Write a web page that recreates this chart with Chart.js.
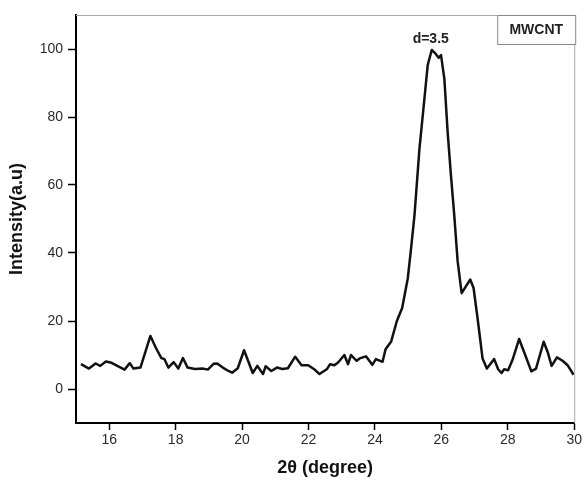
<!DOCTYPE html>
<html>
<head>
<meta charset="utf-8">
<script src="https://cdn.jsdelivr.net/npm/chart.js@4"></script>
<style>
  body { margin: 0; background: #fff; }
  #wrap { width: 584px; height: 481px; }
</style>
</head>
<body>
<div id="wrap"><canvas id="xrdChart"></canvas></div>
<script>
// 2theta positions (degree) and intensity
const angle = [15.15, 15.39, 15.59, 15.73, 15.9, 16.07, 16.26, 16.46, 16.62, 16.73, 16.94, 17.24, 17.4, 17.57, 17.66, 17.78, 17.94, 18.08, 18.22, 18.36, 18.58, 18.81, 18.97, 19.14, 19.25, 19.42, 19.59, 19.7, 19.87, 20.06, 20.32, 20.46, 20.63, 20.71, 20.88, 21.05, 21.21, 21.38, 21.6, 21.79, 21.99, 22.16, 22.33, 22.56, 22.65, 22.78, 22.89, 23.08, 23.19, 23.28, 23.45, 23.54, 23.73, 23.92, 24.03, 24.23, 24.32, 24.49, 24.66, 24.82, 24.99, 25.09, 25.19, 25.34, 25.49, 25.59, 25.71, 25.82, 25.92, 25.99, 26.09, 26.19, 26.29, 26.39, 26.49, 26.61, 26.87, 26.97, 27.09, 27.24, 27.37, 27.59, 27.71, 27.81, 27.89, 28.01, 28.14, 28.34, 28.49, 28.71, 28.85, 29.08, 29.2, 29.32, 29.48, 29.65, 29.8, 29.98];
const intensity = [7.3, 6.0, 7.5, 6.8, 8.1, 7.7, 6.7, 5.7, 7.6, 6.0, 6.3, 15.6, 12.2, 9.1, 8.8, 6.3, 7.9, 6.0, 9.1, 6.3, 5.9, 6.0, 5.7, 7.4, 7.5, 6.3, 5.3, 4.8, 6.1, 11.4, 4.7, 6.8, 4.4, 6.7, 5.3, 6.3, 5.9, 6.1, 9.5, 7.0, 7.0, 5.9, 4.4, 5.9, 7.3, 7.0, 7.8, 10.0, 7.3, 10.0, 8.3, 9.0, 9.6, 7.1, 8.8, 8.0, 11.7, 14.0, 20.0, 23.8, 32.6, 41.5, 51.0, 70.6, 85.4, 95.3, 99.7, 98.7, 97.4, 98.2, 91.3, 75.5, 62.7, 50.9, 37.6, 28.2, 32.2, 29.7, 20.8, 9.0, 6.0, 8.8, 5.8, 4.7, 5.8, 5.5, 8.5, 14.7, 10.9, 5.2, 6.0, 13.9, 10.9, 6.8, 9.3, 8.3, 7.0, 4.2];

const xTicks = [16, 18, 20, 22, 24, 26, 28, 30];
const yTicks = [0, 20, 40, 60, 80, 100];

const sampleName = "MWCNT";
const peakLabel = "d=3.5";
const peakPos = [25.68, 103];

const points = angle.map((a, i) => ({ x: a, y: intensity[i] }));

// frame, sample box and peak note
const extras = {
  id: 'extras',
  afterDraw(chart) {
    const c = chart.ctx;
    const a = chart.chartArea;
    c.save();
    c.strokeStyle = '#aaa';
    c.lineWidth = 1;
    c.beginPath();
    c.moveTo(a.left, a.top + 0.5);
    c.lineTo(a.right + 0.5, a.top + 0.5);
    c.lineTo(a.right + 0.5, a.bottom);
    c.stroke();

    // sample box
    c.strokeStyle = '#888';
    c.fillStyle = '#fff';
    c.fillRect(a.right - 77, a.top, 78, 29);
    c.strokeRect(a.right - 77 + 0.5, a.top + 0.5, 78, 29);
    c.fillStyle = '#222';
    c.font = 'bold 14px "Liberation Sans", Arial, sans-serif';
    c.textAlign = 'center';
    c.textBaseline = 'middle';
    c.fillText(sampleName, a.right - 38, a.top + 15);

    // peak note
    const px = chart.scales.x.getPixelForValue(peakPos[0]);
    const py = chart.scales.y.getPixelForValue(peakPos[1]);
    c.font = 'bold 14px "Liberation Sans", Arial, sans-serif';
    c.fillText(peakLabel, px, py);
    c.restore();
  }
};

var ctx = document.getElementById("xrdChart").getContext('2d');
var xrdChart = new Chart(ctx, {
  type: 'line',
  data: {
    datasets: [{
      label: sampleName,
      data: points,
      borderColor: '#111',
      borderWidth: 2.5,
      pointRadius: 0,
      tension: 0,
      fill: false,
      borderJoinStyle: 'round'
    }]
  },
  options: {
    responsive: true,
    maintainAspectRatio: false,
    animation: false,
    layout: { padding: { left: 0, top: 15, right: 9, bottom: 0 } },
    plugins: {
      legend: { display: false },
      tooltip: { enabled: false }
    },
    scales: {
      x: {
        type: 'linear',
        min: 15,
        max: 30,
        afterBuildTicks: s => { s.ticks = xTicks.map(v => ({ value: v })); },
        afterFit: s => { s.height = 58; },
        ticks: {
          font: { size: 14, family: '"Liberation Sans", Arial, sans-serif' },
          color: '#2a2a2a',
          padding: 2,
          maxRotation: 0
        },
        grid: { drawOnChartArea: false, tickLength: 7, color: '#000', tickWidth: 1.5 },
        border: { color: '#000', width: 2 },
        title: {
          display: true,
          text: '2θ (degree)',
          color: '#111',
          font: { size: 18, weight: 'bold', family: '"Liberation Sans", Arial, sans-serif' },
          padding: { top: 0, bottom: 2 }
        }
      },
      y: {
        min: -10,
        max: 110,
        afterBuildTicks: s => { s.ticks = yTicks.map(v => ({ value: v })); },
        afterFit: s => { s.width = 76; },
        ticks: {
          font: { size: 14, family: '"Liberation Sans", Arial, sans-serif' },
          color: '#2a2a2a',
          padding: 5
        },
        grid: { drawOnChartArea: false, tickLength: 8, color: '#000', tickWidth: 1.5 },
        border: { color: '#000', width: 2 },
        title: {
          display: true,
          text: 'Intensity(a.u)',
          color: '#111',
          font: { size: 18, weight: 'bold', family: '"Liberation Sans", Arial, sans-serif' },
          padding: { top: 6, bottom: 0 }
        }
      }
    }
  },
  plugins: [extras]
});
</script>
</body>
</html>
